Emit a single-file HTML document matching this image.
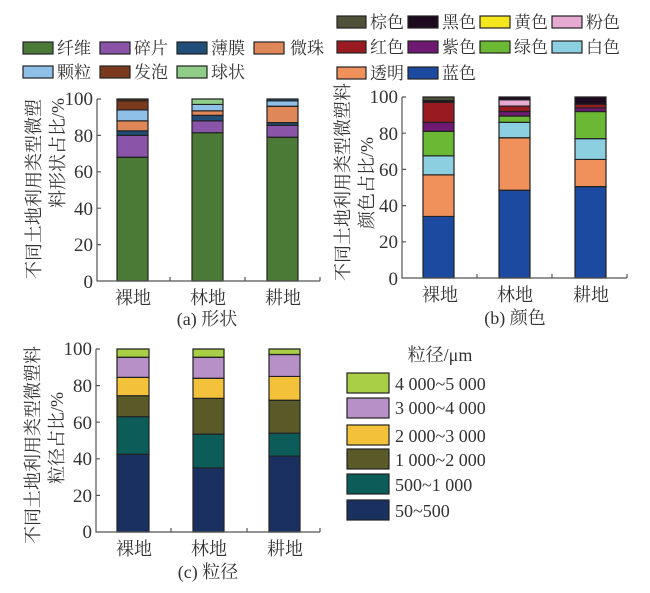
<!DOCTYPE html>
<html><head><meta charset="utf-8"><style>
body{margin:0;background:#fff}
svg{display:block}
text{font-family:"Liberation Serif","Noto Serif CJK SC","Noto Sans CJK SC",serif;fill:#333}
.t{font-size:18px}
.n{font-size:19px}
.c{font-size:17px}
.y{font-size:18px}
rect.b{stroke:#222;stroke-width:1.2}
</style></head><body>
<svg width="650" height="593" viewBox="0 0 650 593" xmlns="http://www.w3.org/2000/svg">
<!-- Legend a -->
<rect class="b" x="23" y="42" width="30" height="12" fill="#4a7a35"/><text class="c" x="57" y="54">纤维</text>
<rect class="b" x="100" y="42" width="30" height="12" fill="#8a55a8"/><text class="c" x="134" y="54">碎片</text>
<rect class="b" x="177" y="42" width="30" height="12" fill="#1f4e79"/><text class="c" x="211" y="54">薄膜</text>
<rect class="b" x="254" y="42" width="30" height="12" fill="#e0875a"/><text class="c" x="290" y="54">微珠</text>
<rect class="b" x="23" y="66" width="30" height="12" fill="#8fc0e8"/><text class="c" x="57" y="78">颗粒</text>
<rect class="b" x="100" y="66" width="30" height="12" fill="#7a3a1e"/><text class="c" x="134" y="78">发泡</text>
<rect class="b" x="177" y="66" width="30" height="12" fill="#8fce88"/><text class="c" x="211" y="78">球状</text>
<!-- Chart a -->
<g transform="translate(0,281) scale(1,-1.82)">
<rect class="b" vector-effect="non-scaling-stroke" x="117" y="0" width="31" height="68" fill="#4a7a35"/>
<rect class="b" vector-effect="non-scaling-stroke" x="117" y="68" width="31" height="12" fill="#8a55a8"/>
<rect class="b" vector-effect="non-scaling-stroke" x="117" y="80" width="31" height="2.5" fill="#1f4e79"/>
<rect class="b" vector-effect="non-scaling-stroke" x="117" y="82.5" width="31" height="5.5" fill="#e0875a"/>
<rect class="b" vector-effect="non-scaling-stroke" x="117" y="88" width="31" height="6" fill="#8fc0e8"/>
<rect class="b" vector-effect="non-scaling-stroke" x="117" y="94" width="31" height="5" fill="#7a3a1e"/>
<rect class="b" vector-effect="non-scaling-stroke" x="117" y="99" width="31" height="1" fill="#5a3a1e"/>
<rect class="b" vector-effect="non-scaling-stroke" x="192" y="0" width="31" height="81.5" fill="#4a7a35"/>
<rect class="b" vector-effect="non-scaling-stroke" x="192" y="81.5" width="31" height="6.5" fill="#8a55a8"/>
<rect class="b" vector-effect="non-scaling-stroke" x="192" y="88" width="31" height="3" fill="#1f4e79"/>
<rect class="b" vector-effect="non-scaling-stroke" x="192" y="91" width="31" height="2.5" fill="#e0875a"/>
<rect class="b" vector-effect="non-scaling-stroke" x="192" y="93.5" width="31" height="3.5" fill="#8fc0e8"/>
<rect class="b" vector-effect="non-scaling-stroke" x="192" y="97" width="31" height="3" fill="#8fce88"/>
<rect class="b" vector-effect="non-scaling-stroke" x="267" y="0" width="31" height="79" fill="#4a7a35"/>
<rect class="b" vector-effect="non-scaling-stroke" x="267" y="79" width="31" height="6.5" fill="#8a55a8"/>
<rect class="b" vector-effect="non-scaling-stroke" x="267" y="85.5" width="31" height="1.5" fill="#1f4e79"/>
<rect class="b" vector-effect="non-scaling-stroke" x="267" y="87" width="31" height="9" fill="#e0875a"/>
<rect class="b" vector-effect="non-scaling-stroke" x="267" y="96" width="31" height="3" fill="#8fc0e8"/>
<rect class="b" vector-effect="non-scaling-stroke" x="267" y="99" width="31" height="1" fill="#1f4e79"/>
</g>
<g stroke="#555" stroke-width="1.2" fill="none">
<path d="M97 99 V281 H320"/>
<path d="M97 99h4M97 135.4h4M97 171.8h4M97 208.2h4M97 244.6h4M170 281v-4M245 281v-4M320 281v-4"/>
</g>
<g class="n" text-anchor="end">
<text x="93" y="105">100</text><text x="93" y="142">80</text><text x="93" y="178">60</text><text x="93" y="215">40</text><text x="93" y="251">20</text><text x="93" y="288">0</text>
</g>
<g class="t" text-anchor="middle">
<text x="133" y="304">裸地</text><text x="208" y="304">林地</text><text x="283" y="304">耕地</text>
<text x="207" y="325">(a) 形状</text>
</g>
<text class="y" transform="translate(40,189) rotate(-90)" text-anchor="middle">不同土地利用类型微塑</text>
<text class="y" transform="translate(64,98) rotate(-90)" text-anchor="end">料形状占比/%</text>

<!-- Legend b -->
<rect class="b" x="337" y="16" width="29" height="12" fill="#4f5238"/><text class="c" x="370" y="28">棕色</text>
<rect class="b" x="408" y="16" width="30" height="12" fill="#1e0a1e"/><text class="c" x="442" y="28">黑色</text>
<rect class="b" x="480" y="16" width="30" height="12" fill="#f5e71e"/><text class="c" x="514" y="28">黄色</text>
<rect class="b" x="552" y="16" width="30" height="12" fill="#e6aad2"/><text class="c" x="586" y="28">粉色</text>
<rect class="b" x="337" y="41" width="29" height="12" fill="#9a1a22"/><text class="c" x="370" y="53">红色</text>
<rect class="b" x="408" y="41" width="30" height="12" fill="#6e1a72"/><text class="c" x="442" y="53">紫色</text>
<rect class="b" x="480" y="41" width="30" height="12" fill="#6ab833"/><text class="c" x="514" y="53">绿色</text>
<rect class="b" x="552" y="41" width="30" height="12" fill="#8ccfe0"/><text class="c" x="586" y="53">白色</text>
<rect class="b" x="337" y="67" width="29" height="12" fill="#f0905a"/><text class="c" x="370" y="79">透明</text>
<rect class="b" x="408" y="67" width="30" height="12" fill="#1c4aa0"/><text class="c" x="442" y="79">蓝色</text>
<!-- Chart b -->
<g transform="translate(0,278) scale(1,-1.81)">
<rect class="b" vector-effect="non-scaling-stroke" x="423" y="0" width="31" height="34" fill="#1c4aa0"/>
<rect class="b" vector-effect="non-scaling-stroke" x="423" y="34" width="31" height="23" fill="#f0905a"/>
<rect class="b" vector-effect="non-scaling-stroke" x="423" y="57" width="31" height="10.5" fill="#8ccfe0"/>
<rect class="b" vector-effect="non-scaling-stroke" x="423" y="67.5" width="31" height="13.5" fill="#6ab833"/>
<rect class="b" vector-effect="non-scaling-stroke" x="423" y="81" width="31" height="5" fill="#6e1a72"/>
<rect class="b" vector-effect="non-scaling-stroke" x="423" y="86" width="31" height="11" fill="#9a1a22"/>
<rect class="b" vector-effect="non-scaling-stroke" x="423" y="97" width="31" height="1" fill="#1e0a1e"/>
<rect class="b" vector-effect="non-scaling-stroke" x="423" y="98" width="31" height="2" fill="#4f5238"/>
<rect class="b" vector-effect="non-scaling-stroke" x="499" y="0" width="31" height="48.5" fill="#1c4aa0"/>
<rect class="b" vector-effect="non-scaling-stroke" x="499" y="48.5" width="31" height="29" fill="#f0905a"/>
<rect class="b" vector-effect="non-scaling-stroke" x="499" y="77.5" width="31" height="8.5" fill="#8ccfe0"/>
<rect class="b" vector-effect="non-scaling-stroke" x="499" y="86" width="31" height="3.5" fill="#6ab833"/>
<rect class="b" vector-effect="non-scaling-stroke" x="499" y="89.5" width="31" height="2.5" fill="#6e1a72"/>
<rect class="b" vector-effect="non-scaling-stroke" x="499" y="92" width="31" height="3" fill="#9a1a22"/>
<rect class="b" vector-effect="non-scaling-stroke" x="499" y="95" width="31" height="3.5" fill="#e6aad2"/>
<rect class="b" vector-effect="non-scaling-stroke" x="499" y="98.5" width="31" height="1.5" fill="#1e0a1e"/>
<rect class="b" vector-effect="non-scaling-stroke" x="575" y="0" width="31" height="50.5" fill="#1c4aa0"/>
<rect class="b" vector-effect="non-scaling-stroke" x="575" y="50.5" width="31" height="15" fill="#f0905a"/>
<rect class="b" vector-effect="non-scaling-stroke" x="575" y="65.5" width="31" height="11.5" fill="#8ccfe0"/>
<rect class="b" vector-effect="non-scaling-stroke" x="575" y="77" width="31" height="15" fill="#6ab833"/>
<rect class="b" vector-effect="non-scaling-stroke" x="575" y="92" width="31" height="2" fill="#6e1a72"/>
<rect class="b" vector-effect="non-scaling-stroke" x="575" y="94" width="31" height="2" fill="#9a1a22"/>
<rect class="b" vector-effect="non-scaling-stroke" x="575" y="96" width="31" height="4" fill="#1e0a1e"/>
</g>
<g stroke="#555" stroke-width="1.2" fill="none">
<path d="M402 97 V278 H627"/>
<path d="M402 97h4M402 133.2h4M402 169.4h4M402 205.6h4M402 241.8h4M477 278v-4M552 278v-4M627 278v-4"/>
</g>
<g class="n" text-anchor="end">
<text x="398" y="103">100</text><text x="398" y="140">80</text><text x="398" y="176">60</text><text x="398" y="212">40</text><text x="398" y="248">20</text><text x="398" y="285">0</text>
</g>
<g class="t" text-anchor="middle">
<text x="440" y="301">裸地</text><text x="515" y="301">林地</text><text x="591" y="301">耕地</text>
<text x="515" y="324">(b) 颜色</text>
</g>
<text class="y" transform="translate(349,182) rotate(-90)" text-anchor="middle">不同土地利用类型微塑料</text>
<text class="y" transform="translate(373,183) rotate(-90)" text-anchor="middle">颜色占比/%</text>

<!-- Chart c -->
<g transform="translate(0,532) scale(1,-1.83)">
<rect class="b" vector-effect="non-scaling-stroke" x="117" y="0" width="32" height="42.5" fill="#1a3060"/>
<rect class="b" vector-effect="non-scaling-stroke" x="117" y="42.5" width="32" height="20.5" fill="#0c5c5a"/>
<rect class="b" vector-effect="non-scaling-stroke" x="117" y="63" width="32" height="11.5" fill="#5a5a28"/>
<rect class="b" vector-effect="non-scaling-stroke" x="117" y="74.5" width="32" height="10" fill="#f4c23a"/>
<rect class="b" vector-effect="non-scaling-stroke" x="117" y="84.5" width="32" height="11" fill="#b890c8"/>
<rect class="b" vector-effect="non-scaling-stroke" x="117" y="95.5" width="32" height="4.5" fill="#a8cf45"/>
<rect class="b" vector-effect="non-scaling-stroke" x="193" y="0" width="31" height="35" fill="#1a3060"/>
<rect class="b" vector-effect="non-scaling-stroke" x="193" y="35" width="31" height="18.5" fill="#0c5c5a"/>
<rect class="b" vector-effect="non-scaling-stroke" x="193" y="53.5" width="31" height="19.5" fill="#5a5a28"/>
<rect class="b" vector-effect="non-scaling-stroke" x="193" y="73" width="31" height="11" fill="#f4c23a"/>
<rect class="b" vector-effect="non-scaling-stroke" x="193" y="84" width="31" height="11.5" fill="#b890c8"/>
<rect class="b" vector-effect="non-scaling-stroke" x="193" y="95.5" width="31" height="4.5" fill="#a8cf45"/>
<rect class="b" vector-effect="non-scaling-stroke" x="269" y="0" width="31" height="41.5" fill="#1a3060"/>
<rect class="b" vector-effect="non-scaling-stroke" x="269" y="41.5" width="31" height="12.5" fill="#0c5c5a"/>
<rect class="b" vector-effect="non-scaling-stroke" x="269" y="54" width="31" height="18" fill="#5a5a28"/>
<rect class="b" vector-effect="non-scaling-stroke" x="269" y="72" width="31" height="13" fill="#f4c23a"/>
<rect class="b" vector-effect="non-scaling-stroke" x="269" y="85" width="31" height="12" fill="#b890c8"/>
<rect class="b" vector-effect="non-scaling-stroke" x="269" y="97" width="31" height="3" fill="#a8cf45"/>
</g>
<g stroke="#555" stroke-width="1.2" fill="none">
<path d="M96 349 V532 H320"/>
<path d="M96 349h4M96 385.6h4M96 422.2h4M96 458.8h4M96 495.4h4M171 532v-4M247 532v-4M320 532v-4"/>
</g>
<g class="n" text-anchor="end">
<text x="92" y="355">100</text><text x="92" y="392">80</text><text x="92" y="429">60</text><text x="92" y="465">40</text><text x="92" y="502">20</text><text x="92" y="538">0</text>
</g>
<g class="t" text-anchor="middle">
<text x="134" y="555">裸地</text><text x="209" y="555">林地</text><text x="285" y="555">耕地</text>
<text x="208" y="578">(c) 粒径</text>
</g>
<text class="y" transform="translate(39,445) rotate(-90)" text-anchor="middle">不同土地利用类型微塑料</text>
<text class="y" transform="translate(63,438) rotate(-90)" text-anchor="middle">粒径占比/%</text>

<!-- Legend c -->
<text class="t" x="440" y="361" text-anchor="middle">粒径/μm</text>
<rect class="b" x="347" y="373" width="42" height="20" fill="#a8cf45"/><text class="t" x="395" y="390">4 000~5 000</text>
<rect class="b" x="347" y="398" width="42" height="20" fill="#b890c8"/><text class="t" x="395" y="414">3 000~4 000</text>
<rect class="b" x="347" y="425" width="42" height="20" fill="#f4c23a"/><text class="t" x="395" y="442">2 000~3 000</text>
<rect class="b" x="347" y="449" width="42" height="20" fill="#5a5a28"/><text class="t" x="395" y="466">1 000~2 000</text>
<rect class="b" x="347" y="474" width="42" height="20" fill="#0c5c5a"/><text class="t" x="395" y="491">500~1 000</text>
<rect class="b" x="347" y="500" width="42" height="20" fill="#1a3060"/><text class="t" x="395" y="517">50~500</text>
</svg>
</body></html>
